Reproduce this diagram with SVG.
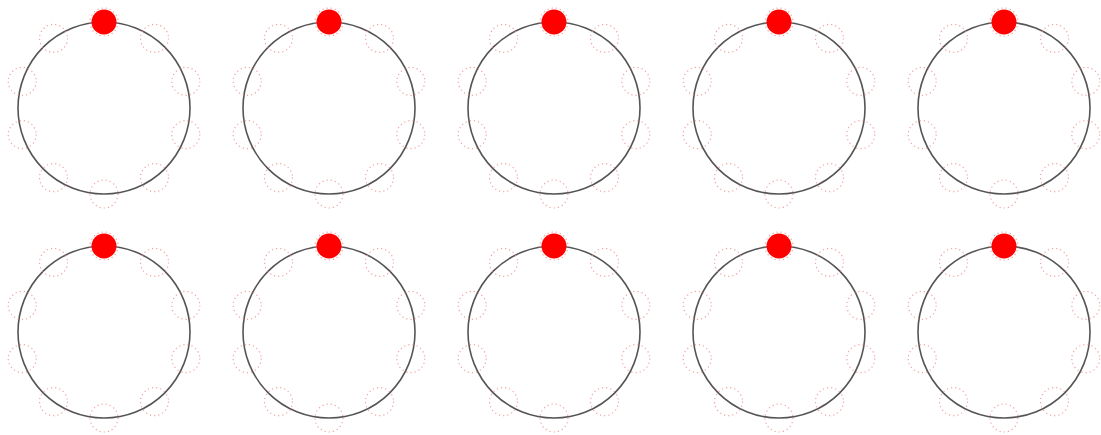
<svg xmlns="http://www.w3.org/2000/svg" xmlns:xlink="http://www.w3.org/1999/xlink" width="1101" height="435" viewBox="0 0 1101 435">
<style>
.ring{fill:none;stroke:#555;stroke-width:1.6}
.slot{fill:none;stroke:#f08a8a;stroke-width:1.2;stroke-dasharray:1.2 3;opacity:0.8}
.dot{fill:#ff0000}
</style>
<defs>
<g id="clock">
<circle class="ring" cx="0" cy="0" r="86"/>
<circle class="slot" cx="0" cy="-86" r="14"/>
<circle class="slot" cx="50.5" cy="-69.6" r="14"/>
<circle class="slot" cx="81.8" cy="-26.6" r="14"/>
<circle class="slot" cx="81.8" cy="26.6" r="14"/>
<circle class="slot" cx="50.5" cy="69.6" r="14"/>
<circle class="slot" cx="0" cy="86" r="14"/>
<circle class="slot" cx="-50.5" cy="69.6" r="14"/>
<circle class="slot" cx="-81.8" cy="26.6" r="14"/>
<circle class="slot" cx="-81.8" cy="-26.6" r="14"/>
<circle class="slot" cx="-50.5" cy="-69.6" r="14"/>
<circle class="dot" cx="0" cy="-86" r="12.5"/>
</g>
</defs>
<rect width="1101" height="435" fill="#ffffff"/>
<g id="node-r1c1"><use xlink:href="#clock" transform="translate(104,108)"/></g>
<g id="node-r1c2"><use xlink:href="#clock" transform="translate(329,108)"/></g>
<g id="node-r1c3"><use xlink:href="#clock" transform="translate(554,108)"/></g>
<g id="node-r1c4"><use xlink:href="#clock" transform="translate(779,108)"/></g>
<g id="node-r1c5"><use xlink:href="#clock" transform="translate(1004,108)"/></g>
<g id="node-r2c1"><use xlink:href="#clock" transform="translate(104,332)"/></g>
<g id="node-r2c2"><use xlink:href="#clock" transform="translate(329,332)"/></g>
<g id="node-r2c3"><use xlink:href="#clock" transform="translate(554,332)"/></g>
<g id="node-r2c4"><use xlink:href="#clock" transform="translate(779,332)"/></g>
<g id="node-r2c5"><use xlink:href="#clock" transform="translate(1004,332)"/></g>
<g id="connectors"></g>
</svg>
